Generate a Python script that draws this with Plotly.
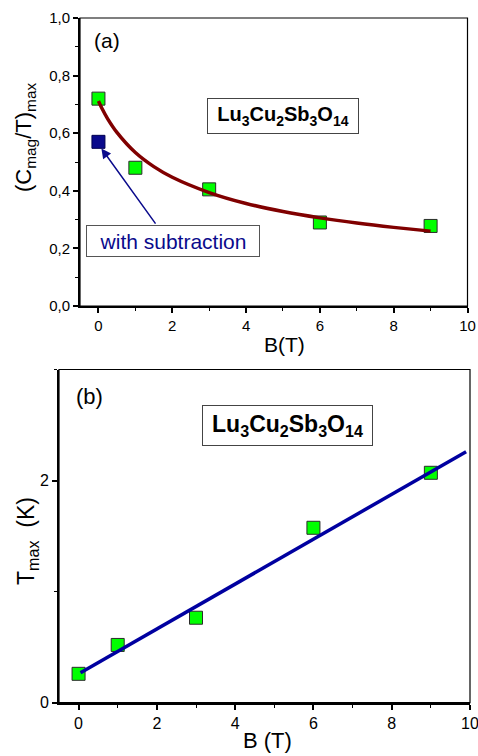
import plotly.graph_objects as go

# ---------------- panel (a): (C_mag/T)_max versus field ----------------
B_a = [0, 1, 3, 6, 9]
Cmax_a = [0.72, 0.48, 0.405, 0.29, 0.278]
B_sub = [0]
Cmax_sub = [0.57]
# fitted curve
B_fit_a = [0, 0.1, 0.25, 0.5, 1, 1.5, 2, 3, 4, 5, 6, 7, 8, 9]
C_fit_a = [0.712, 0.685, 0.650, 0.603, 0.533, 0.484, 0.447, 0.394,
           0.356, 0.328, 0.306, 0.288, 0.273, 0.260]
a_xticks = [0, 2, 4, 6, 8, 10]
a_xminor = [1, 3, 5, 7, 9]
a_yticks = [0.0, 0.2, 0.4, 0.6, 0.8, 1.0]
a_ytext = ["0,0", "0,2", "0,4", "0,6", "0,8", "1,0"]
a_yminor = [0.1, 0.3, 0.5, 0.7, 0.9]

# ---------------- panel (b): T_max versus field ----------------
B_b = [0, 1, 3, 6, 9]
Tmax_b = [0.26, 0.52, 0.765, 1.575, 2.07]
B_fit_b = [0.05, 9.9]
T_fit_b = [0.27, 2.26]
b_xticks = [0, 2, 4, 6, 8, 10]
b_xminor = [1, 3, 5, 7, 9]
b_yticks = [0, 2]
b_yminor = [1, 3]

FONT = "Arial, Liberation Sans, sans-serif"
W, H = 478, 756


def px(x):
    return x / W


def py(y):
    return (H - y) / H


green = "#00ff00"
edge = "#2b2b2b"
navy = "#0a0a8c"

fig = go.Figure()

# panel (a) data
fig.add_trace(go.Scatter(x=B_a, y=Cmax_a, mode="markers", xaxis="x", yaxis="y",
                         marker=dict(symbol="square", size=13, color=green,
                                     line=dict(color=edge, width=1))))
fig.add_trace(go.Scatter(x=B_sub, y=Cmax_sub, mode="markers", xaxis="x", yaxis="y",
                         marker=dict(symbol="square", size=13, color=navy,
                                     line=dict(color="#000050", width=1))))
fig.add_trace(go.Scatter(x=B_fit_a, y=C_fit_a, mode="lines", xaxis="x", yaxis="y",
                         line=dict(color="#800000", width=3.5, shape="spline", smoothing=0.8)))

# panel (b) data
fig.add_trace(go.Scatter(x=B_b, y=Tmax_b, mode="markers", xaxis="x2", yaxis="y2",
                         marker=dict(symbol="square", size=13, color=green,
                                     line=dict(color=edge, width=1))))
fig.add_trace(go.Scatter(x=B_fit_b, y=T_fit_b, mode="lines", xaxis="x2", yaxis="y2",
                         line=dict(color="#0000a0", width=3.5)))

axis_common = dict(showline=True, linecolor="black", linewidth=1.8, ticks="outside",
                   ticklen=5, tickwidth=1.5, tickcolor="black", showgrid=False,
                   zeroline=False, mirror=False, automargin=False,
                   ticklabeloverflow="allow")

fig.update_layout(
    width=W, height=H, margin=dict(l=0, r=0, t=0, b=0, autoexpand=False),
    paper_bgcolor="white", plot_bgcolor="white", showlegend=False,
    font=dict(family=FONT, color="black"),
    xaxis=dict(domain=[px(80), px(467.5)], anchor="y", range=[-0.5, 10],
               tickmode="array", tickvals=a_xticks,
               minor=dict(tickmode="array", tickvals=a_xminor, ticks="outside",
                          ticklen=3, tickwidth=1.2, tickcolor="black"),
               tickfont=dict(size=15, family=FONT), **axis_common),
    yaxis=dict(domain=[py(306), py(18)], anchor="x", range=[0, 1.0],
               tickmode="array", tickvals=a_yticks, ticktext=a_ytext,
               minor=dict(tickmode="array", tickvals=a_yminor, ticks="outside",
                          ticklen=3, tickwidth=1.2, tickcolor="black"),
               tickfont=dict(size=15, family=FONT), **axis_common),
    xaxis2=dict(domain=[px(59), px(470)], anchor="y2", range=[-0.5, 10],
                tickmode="array", tickvals=b_xticks,
                minor=dict(tickmode="array", tickvals=b_xminor, ticks="outside",
                           ticklen=3, tickwidth=1.2, tickcolor="black"),
                tickfont=dict(size=16, family=FONT), **axis_common),
    yaxis2=dict(domain=[py(702.7), py(369.5)], anchor="x2", range=[0, 3],
                tickmode="array", tickvals=b_yticks,
                minor=dict(tickmode="array", tickvals=b_yminor, ticks="outside",
                           ticklen=3, tickwidth=1.2, tickcolor="black"),
                tickfont=dict(size=16, family=FONT), **axis_common),
)

# thin frames on the top/right sides
for xr, yr in (("x domain", "y domain"), ("x2 domain", "y2 domain")):
    fig.add_shape(type="rect", xref=xr, yref=yr, x0=0, x1=1, y0=0, y1=1,
                  line=dict(color="black", width=1.2), layer="above")

compound = "Lu<sub>3</sub>Cu<sub>2</sub>Sb<sub>3</sub>O<sub>14</sub>"

annotations = [
    # panel labels
    dict(x=px(107), y=py(41), text="(a)", font=dict(size=21)),
    dict(x=px(89), y=py(396), text="(b)", font=dict(size=22)),
    # compound boxes
    dict(x=px(282.5), y=py(116.3), text="<b>" + compound + "</b>", font=dict(size=20),
         width=148, height=32, bordercolor="#444", borderwidth=1, borderpad=1,
         bgcolor="white"),
    dict(x=px(287), y=py(425.3), text="<b>" + compound + "</b>", font=dict(size=23),
         width=167, height=37, bordercolor="#444", borderwidth=1, borderpad=1,
         bgcolor="white"),
    # subtraction note
    dict(x=px(172.5), y=py(241), text="with subtraction", font=dict(size=21, color=navy),
         width=170, height=28, bordercolor="#555", borderwidth=1, borderpad=1,
         bgcolor="white"),
    # axis titles
    dict(x=px(284.5), y=py(344), text="B(T)", font=dict(size=21)),
    dict(x=px(267), y=py(740), text="B (T)", font=dict(size=22)),
    dict(x=px(25), y=py(138), text="(C<sub>mag</sub>/T)<sub>max</sub>", font=dict(size=22),
         textangle=-90),
    dict(x=px(27), y=py(541), text="T<sub>max</sub>  (K)", font=dict(size=23),
         textangle=-90),
]
for a in annotations:
    a.update(xref="paper", yref="paper", showarrow=False, xanchor="center", yanchor="middle")
    a["font"] = dict(family=FONT, color=a["font"].get("color", "black"), size=a["font"]["size"])
    fig.add_annotation(**a)

# arrow from the note to the subtracted point
fig.add_annotation(x=0.08, y=0.547, xref="x", yref="y", ax=1.576, ay=0.281,
                   axref="x", ayref="y", showarrow=True, arrowhead=2, arrowsize=1.3,
                   arrowwidth=1.5, arrowcolor=navy, text="")

fig.write_html("out.html")
